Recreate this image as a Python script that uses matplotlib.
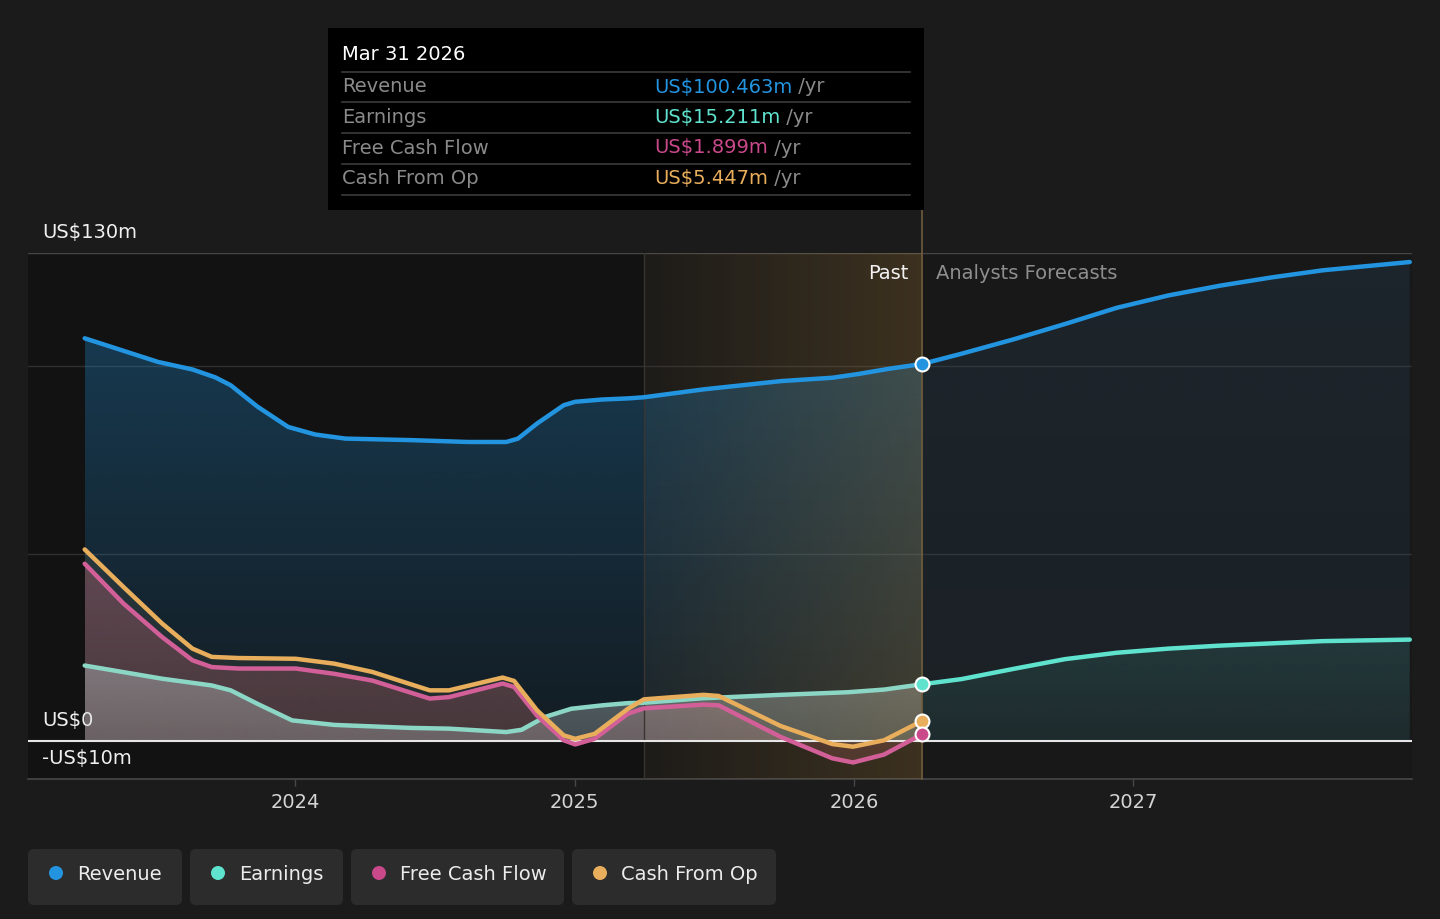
import numpy as np
import matplotlib
matplotlib.use('Agg')
import matplotlib.pyplot as plt
from matplotlib.colors import to_rgb
from matplotlib.patches import Rectangle, FancyBboxPatch, Circle, PathPatch
from matplotlib.transforms import IdentityTransform
from matplotlib.lines import Line2D
from matplotlib.text import Annotation

W, H = 1440, 919

# --- data (years as decimals, values in US$ m) ---
rev_x = [2023.245, 2023.508, 2023.631, 2023.713, 2023.768, 2023.864, 2023.974,
         2024.070, 2024.179, 2024.413, 2024.618, 2024.755, 2024.797, 2024.865,
         2024.961, 2025.002, 2025.098, 2025.191, 2025.248, 2025.461, 2025.738,
         2025.923, 2026.016, 2026.127, 2026.244, 2026.386, 2026.571, 2026.756,
         2026.941, 2027.126, 2027.311, 2027.496, 2027.680, 2027.991]
rev_y = [107.3, 101.0, 99.0, 96.9, 94.8, 89.1, 83.7, 81.7, 80.6, 80.2, 79.7, 79.7,
         80.6, 84.6, 89.5, 90.4, 91.0, 91.3, 91.6, 93.7, 95.9, 96.8, 97.8, 99.2,
         100.463, 103.2, 107.0, 111.1, 115.4, 118.7, 121.3, 123.5, 125.4, 127.6]

earn_x = [2023.245, 2023.522, 2023.700, 2023.768, 2023.864, 2023.988, 2024.139,
          2024.413, 2024.550, 2024.755, 2024.810, 2024.893, 2024.988, 2025.098,
          2025.191, 2025.248, 2025.461, 2025.738, 2025.979, 2026.108, 2026.244,
          2026.386, 2026.571, 2026.756, 2026.941, 2027.126, 2027.311, 2027.496,
          2027.680, 2027.991]
earn_y = [20.2, 16.7, 14.9, 13.6, 10.0, 5.6, 4.4, 3.6, 3.4, 2.5, 3.1, 6.5, 8.7, 9.6,
          10.2, 10.3, 11.5, 12.4, 13.1, 13.8, 15.211, 16.6, 19.3, 21.9, 23.6, 24.7,
          25.5, 26.1, 26.7, 27.1]

cash_x = [2023.245, 2023.384, 2023.522, 2023.631, 2023.700, 2023.796, 2024.001,
          2024.139, 2024.275, 2024.481, 2024.550, 2024.742, 2024.783, 2024.865,
          2024.961, 2025.002, 2025.071, 2025.191, 2025.248, 2025.461, 2025.516,
          2025.738, 2025.923, 2025.997, 2026.108, 2026.244]
fcf_y = [47.3, 36.7, 27.8, 21.6, 19.8, 19.4, 19.4, 18.0, 16.2, 11.4, 11.8, 15.4, 14.5,
         6.9, 0.3, -0.8, 0.7, 7.4, 8.8, 9.8, 9.6, 1.2, -4.5, -5.6, -3.5, 1.899]
cfo_y = [51.1, 41.1, 31.4, 24.7, 22.5, 22.2, 22.0, 20.7, 18.5, 13.6, 13.6, 17.0, 16.1,
         8.3, 1.6, 0.7, 2.0, 8.7, 11.2, 12.4, 12.1, 4.1, -0.7, -1.4, 0.3, 5.447]

past_end = 2026.244
highlight_start = 2025.248
year_ticks = [2024, 2025, 2026, 2027]
y_labels = {130: 'US$130m', 0: 'US$0', -10: '-US$10m'}

C_REV = '#2394df'
C_EARN = '#5fe3cf'
C_FCF = '#c9498b'
C_CFO = '#e8ae5c'

tooltip_date = 'Mar 31 2026'
tooltip_rows = [('Revenue', 'US$100.463m', C_REV),
                ('Earnings', 'US$15.211m', C_EARN),
                ('Free Cash Flow', 'US$1.899m', C_FCF),
                ('Cash From Op', 'US$5.447m', C_CFO)]
legend_items = [('Revenue', C_REV), ('Earnings', C_EARN),
                ('Free Cash Flow', C_FCF), ('Cash From Op', C_CFO)]

FS = 14


def gradient_fill(ax, x, y, color, a_top, a_bot, z, base=0.0):
    """Fill between a curve and base with a vertical alpha gradient."""
    poly = ax.fill_between(x, y, base, color='none', lw=0)
    clip = PathPatch(poly.get_paths()[0], transform=ax.transData,
                     facecolor='none', edgecolor='none')
    ax.add_patch(clip)
    grad = np.zeros((200, 1, 4))
    grad[:, 0, :3] = to_rgb(color)
    grad[:, 0, 3] = np.linspace(a_top, a_bot, 200)
    lo = min(base, min(y))
    im = ax.imshow(grad, aspect='auto', origin='upper', zorder=z,
                   extent=[min(x), max(x), lo, max(y)], interpolation='bilinear')
    im.set_clip_path(clip)


def split(xs, ys, at):
    i = xs.index(at)
    return (xs[:i + 1], ys[:i + 1]), (xs[i:], ys[i:])


fig = plt.figure(figsize=(W / 100, H / 100), dpi=100)
fig.patch.set_facecolor('#1b1b1b')
ax = fig.add_axes([28 / W, (H - 779) / H, (1412 - 28) / W, (779 - 253) / H])
ax.set_facecolor('#181818')
xlim = (2023.042, 2027.999)
ylim = (-10, 130)

# darker past background
ax.axvspan(xlim[0], highlight_start, color='#121212', zorder=0, lw=0)

# grid
for v, c in [(130, '#464646'), (100, '#2f2f2f'), (50, '#2f2f2f')]:
    ax.axhline(v, color=c, lw=1, zorder=1)

# area fills
(rp_x, rp_y), (rf_x, rf_y) = split(rev_x, rev_y, past_end)
(ep_x, ep_y), (ef_x, ef_y) = split(earn_x, earn_y, past_end)
gradient_fill(ax, rp_x, rp_y, C_REV, 0.30, 0.08, 2)
gradient_fill(ax, rf_x, rf_y, '#3a78a8', 0.14, 0.09, 2)
gradient_fill(ax, cash_x, cfo_y, '#b0a070', 0.12, 0.10, 3)
gradient_fill(ax, cash_x, fcf_y, '#c86878', 0.36, 0.20, 3)
gradient_fill(ax, ep_x, ep_y, '#c8d2d2', 0.38, 0.28, 4)
gradient_fill(ax, ef_x, ef_y, C_EARN, 0.12, 0.06, 4)

# highlighted last year of history
hl = np.zeros((1, 200, 4))
hl[0, :, :3] = to_rgb('#d29a40')
hl[0, :, 3] = np.linspace(0.03, 0.2, 200)
ax.imshow(hl, aspect='auto', extent=[highlight_start, past_end, ylim[0], ylim[1]],
          zorder=5, interpolation='bilinear')
ax.axvline(highlight_start, color='#3a3530', lw=1, zorder=5)
ax.axvline(past_end, ymin=0, ymax=1 + 43 / 526, color='#6e5c3c', lw=1.2,
           zorder=6, clip_on=False)

# zero line
ax.axhline(0, color='#e6e6e6', lw=1.5, zorder=6)

# lines
kw = dict(lw=3.2, solid_capstyle='round', solid_joinstyle='round')
ax.plot(rev_x, rev_y, color=C_REV, zorder=7, **kw)
ax.plot(ep_x, ep_y, color='#8cd6c6', zorder=7, **kw)
ax.plot(ef_x, ef_y, color=C_EARN, zorder=7, **kw)
ax.plot(cash_x, fcf_y, color='#d35f98', zorder=7, **kw)
ax.plot(cash_x, cfo_y, color=C_CFO, zorder=8, **kw)

# end-of-history markers
for ys, c in [(rev_y[rev_x.index(past_end)], C_REV),
              (earn_y[earn_x.index(past_end)], C_EARN),
              (cfo_y[-1], C_CFO), (fcf_y[-1], C_FCF)]:
    ax.plot([past_end], [ys], 'o', ms=10, color=c, mec='white', mew=1.5, zorder=9)

ax.set_xlim(*xlim)
ax.set_ylim(*ylim)

# axes styling
for s in ['top', 'left', 'right']:
    ax.spines[s].set_visible(False)
ax.spines['bottom'].set_color('#474747')
ax.spines['bottom'].set_linewidth(1.2)
ax.set_xticks(year_ticks)
ax.set_xticklabels([str(y) for y in year_ticks])
ax.tick_params(axis='x', colors='#474747', labelcolor='#d4d4d4', labelsize=FS,
               length=5, width=1, pad=5)
ax.set_yticks([])

for v, lab in y_labels.items():
    ax.annotate(lab, xy=(0, v), xycoords=('axes fraction', 'data'),
                xytext=(10, 15), textcoords='offset points', color='#f0f0f0',
                fontsize=FS, va='center', ha='left')

ax.annotate('Past', xy=(past_end, 130), xytext=(-10, -15), textcoords='offset points',
            color='#f2f2f2', fontsize=FS, ha='right', va='center', zorder=10)
ax.annotate('Analysts Forecasts', xy=(past_end, 130), xytext=(10, -15),
            textcoords='offset points', color='#8e8e8e', fontsize=FS, ha='left',
            va='center', zorder=10)

# tooltip (pixel coordinates)
px = IdentityTransform()


def Y(y):
    return H - y


fig.add_artist(Rectangle((328, Y(210)), 596, 182, transform=px,
                         facecolor='#000000', edgecolor='none'))
fig.text(342, Y(55), tooltip_date, transform=px, color='white', fontsize=FS,
         va='center')
for ly in [72, 102, 133, 164, 195]:
    fig.add_artist(Line2D([342, 910], [Y(ly), Y(ly)], transform=px,
                          color='#3c3c3c', lw=1.2))
for i, (lab, val, c) in enumerate(tooltip_rows):
    yc = Y(87 + i * 30.5)
    fig.text(342, yc, lab, transform=px, color='#8a8a8a', fontsize=FS,
             va='center')
    t = fig.text(654, yc, val, transform=px, color=c, fontsize=FS, va='center')
    fig.add_artist(Annotation(' /yr', xy=(1, 0.5), xycoords=t, color='#8a8a8a',
                              fontsize=FS, va='center', ha='left', zorder=5))

# legend chips
boxes = [(28, 182), (190, 343), (351, 564), (572, 776)]
for (x0, x1), (lab, c) in zip(boxes, legend_items):
    fig.add_artist(FancyBboxPatch((x0, Y(905)), x1 - x0, 56, transform=px,
                                  boxstyle='round,pad=0,rounding_size=6',
                                  facecolor='#2c2c2c', edgecolor='none'))
    fig.add_artist(Circle((x0 + 28, Y(873)), 7, transform=px, facecolor=c,
                          edgecolor='none'))
    fig.text(x0 + 49, Y(874), lab, transform=px, color='#ececec', fontsize=FS,
             va='center')

fig.savefig('out.png', dpi=100, facecolor=fig.get_facecolor())
